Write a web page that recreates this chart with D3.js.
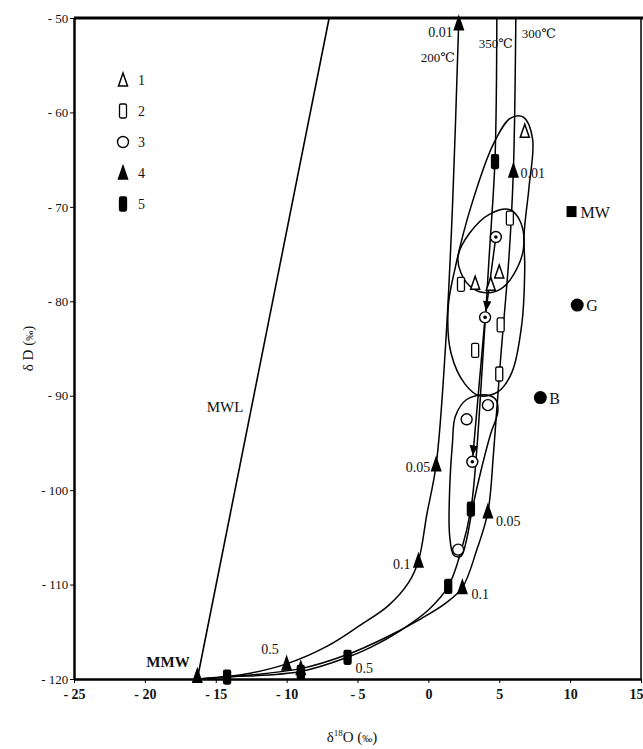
<!DOCTYPE html>
<html>
<head>
<meta charset="utf-8">
<script src="https://cdn.jsdelivr.net/npm/d3@7"></script>
<style>
  body { margin: 0; background: #fff; }
  text { font-family: "Liberation Serif", "DejaVu Serif", serif; fill: #111; }
</style>
</head>
<body>
<div id="chart"></div>
<script>
// assi
var xTicks = [-25, -20, -15, -10, -5, 0, 5, 10, 15];
var yTicks = [-50, -60, -70, -80, -90, -100, -110, -120];

// linea delle acque meteoriche
var mwl = [[-16.3, -120], [-7.0, -50]];

// curve di scambio (d18O, dD)
var curve200 = [[-16.3, -120], [-13, -119.5], [-10, -118.4], [-7.1, -116.5], [-4.8, -114.3], [-2.8, -112.2], [-1.4, -109.8], [-0.7, -107.5], [-0.1, -102.5], [0.55, -97.3], [1.2, -85], [1.7, -70], [2.15, -50]];
var curve350 = [[-16.3, -120], [-14.2, -119.8], [-9, -119.2], [-5.7, -117.7], [-4, -116.6], [-2, -114.9], [0, -112.7], [1.4, -110.2], [2.3, -106.5], [3.0, -102], [3.4, -96], [3.8, -87], [4.3, -75], [4.7, -65], [4.83, -50]];
var curve300 = [[-16.3, -120], [-9, -118.9], [-5.7, -117.4], [-3, -115.6], [-0.5, -113.6], [1.2, -112], [2.4, -110.3], [3.4, -106.4], [4.2, -102.3], [4.6, -96], [5.1, -86], [5.7, -75], [6.0, -66], [6.17, -50]];

// contorni dei gruppi
var loopUpper = [[6.7, -60.5], [7.35, -62.8], [7.1, -67.9], [6.75, -73], [6.8, -76.4], [6.6, -82.3], [5.9, -87.5], [4.9, -89.6], [3.6, -90], [2.6, -88.8], [1.6, -85.5], [1.4, -80.6], [1.9, -76.4], [3.0, -70], [4.6, -63.3], [5.8, -60.6]];
var loopMiddle = [[5.75, -70.3], [6.5, -71.6], [6.7, -74.5], [6.0, -77.2], [5.2, -78.6], [4.2, -79.1], [3.1, -78.6], [2.3, -77], [2.1, -75.2], [2.9, -72.8], [4.3, -70.8]];
var loopLower = [[4.0, -89.9], [4.75, -90.4], [4.9, -91.7], [4.4, -94], [3.7, -98], [3.1, -102], [2.7, -105.2], [2.3, -107], [1.8, -106.9], [1.5, -104.8], [1.5, -100], [1.7, -95], [1.9, -92.2], [2.7, -90.4]];

// campioni
var samples1 = [[6.8, -62], [3.3, -78.1], [4.4, -78.2], [5.0, -76.9]];          // triangolo vuoto
var samples2 = [[5.75, -71.2], [2.3, -78.2], [5.1, -82.5], [3.3, -85.2], [5.0, -87.7]]; // barra vuota
var samples3 = [[2.7, -92.5], [4.2, -91.0], [2.1, -106.3]];                      // cerchio vuoto
var samplesDot = [[4.76, -73.2], [4.0, -81.7], [3.1, -97.0]];                    // cerchio con punto
var calc4 = [[2.15, -50.6], [0.55, -97.3], [-0.7, -107.5], [-10, -118.4], [6.0, -66.2], [4.2, -102.3], [2.4, -110.3], [-9, -118.9], [-16.3, -119.7]];
var calc5 = [[4.7, -65.2], [3.0, -102], [1.4, -110.2], [-5.7, -117.7], [-9, -119.3], [-14.2, -119.8]];

// punti di riferimento
var refNames = ["MW", "G", "B"];
var refX = [10.1, 10.5, 7.9];
var refY = [-70.5, -80.4, -90.2];

// etichette W/R
var wrText = ["0.01", "0.01", "0.05", "0.05", "0.1", "0.1", "0.5", "0.5"];
var wrX = [2.15, 6.0, 0.55, 4.2, -0.7, 2.4, -10, -5.7];
var wrY = [-50.6, -66.2, -97.3, -102.3, -107.5, -110.3, -118.4, -117.7];

var width = 643, height = 749;
var svg = d3.select("#chart").append("svg")
  .attr("width", width)
  .attr("height", height);

var x = d3.scaleLinear().domain([-25, 15]).range([74, 641]);
var y = d3.scaleLinear().domain([-120, -50]).range([679, 18]);

var fmt = function (d) { return d < 0 ? "- " + (-d) : d; };

// asse x
var gx = svg.append("g")
  .attr("transform", "translate(0," + y(-120) + ")")
  .call(d3.axisBottom(x).tickValues(xTicks).tickSize(4).tickSizeOuter(0).tickFormat(fmt));
gx.select(".domain").attr("stroke-width", 2.5);
gx.selectAll("text").attr("font-size", 14).attr("font-weight", "bold").attr("dy", "0.95em")
  .style("font-family", "Liberation Serif");
// l'ultima etichetta sta sul bordo della pagina
gx.selectAll(".tick").filter(function (d) { return d === 15; }).select("text")
  .attr("text-anchor", "end").attr("x", 2);

// asse y
var gy = svg.append("g")
  .attr("transform", "translate(" + x(-25) + ",0)")
  .call(d3.axisLeft(y).tickValues(yTicks).tickSize(4).tickSizeOuter(0).tickFormat(fmt));
gy.select(".domain").attr("stroke-width", 2.5);
gy.selectAll("text").attr("font-size", 13).attr("dx", "0.1em")
  .style("font-family", "Liberation Serif");

// bordo superiore e destro
svg.append("line").attr("x1", x(-25)).attr("x2", width).attr("y1", y(-50)).attr("y2", y(-50))
  .attr("stroke", "#000").attr("stroke-width", 3);
svg.append("line").attr("x1", x(15)).attr("x2", x(15)).attr("y1", y(-50)).attr("y2", y(-120))
  .attr("stroke", "#000").attr("stroke-width", 1.5);

// titoli assi
svg.append("text")
  .attr("transform", "translate(33," + y(-85) + ") rotate(-90)")
  .attr("text-anchor", "middle").attr("font-size", 15)
  .html("δ D (<tspan font-size='10'>‰</tspan>)");
svg.append("text")
  .attr("x", 352).attr("y", 742)
  .attr("text-anchor", "middle").attr("font-size", 15)
  .html("δ<tspan font-size='9' dy='-6'>18</tspan><tspan dy='6'>O (</tspan><tspan font-size='10'>‰</tspan>)");

var plot = svg.append("g");

var straight = d3.line().x(function (d) { return x(d[0]); }).y(function (d) { return y(d[1]); });
var smooth = d3.line().x(function (d) { return x(d[0]); }).y(function (d) { return y(d[1]); })
  .curve(d3.curveCatmullRom.alpha(0.5));
var closedLine = d3.line().x(function (d) { return x(d[0]); }).y(function (d) { return y(d[1]); })
  .curve(d3.curveCatmullRomClosed.alpha(0.5));

plot.append("path").attr("d", straight(mwl)).attr("fill", "none").attr("stroke", "#000").attr("stroke-width", 1.6);
[curve200, curve350, curve300].forEach(function (c) {
  plot.append("path").attr("d", smooth(c)).attr("fill", "none").attr("stroke", "#000").attr("stroke-width", 1.5);
});
[loopUpper, loopMiddle, loopLower].forEach(function (c) {
  plot.append("path").attr("d", closedLine(c)).attr("fill", "none").attr("stroke", "#000").attr("stroke-width", 1.5);
});

// freccia tra i cerchi con punto
svg.append("defs").append("marker")
  .attr("id", "arrow").attr("viewBox", "0 0 10 10").attr("refX", 10).attr("refY", 5)
  .attr("markerWidth", 7).attr("markerHeight", 9).attr("orient", "auto")
  .append("path").attr("d", "M0,1 L10,5 L0,9 Z").attr("fill", "#000");
for (var i = 0; i < samplesDot.length - 1; i++) {
  var a = samplesDot[i], b = samplesDot[i + 1];
  var x1 = x(a[0]), y1 = y(a[1]), x2 = x(b[0]), y2 = y(b[1]);
  var len = Math.hypot(x2 - x1, y2 - y1);
  var ux = (x2 - x1) / len, uy = (y2 - y1) / len;
  plot.append("line")
    .attr("x1", x1 + ux * 6).attr("y1", y1 + uy * 6)
    .attr("x2", x2 - ux * 6).attr("y2", y2 - uy * 6)
    .attr("stroke", "#000").attr("stroke-width", 1.5)
    .attr("marker-end", "url(#arrow)");
}

// simboli
function triangle(g, cx, cy, filled) {
  g.append("path")
    .attr("d", "M" + cx + "," + (cy - 7) + " L" + (cx + 4.5) + "," + (cy + 6) + " L" + (cx - 4.5) + "," + (cy + 6) + " Z")
    .attr("fill", filled ? "#000" : "#fff").attr("stroke", "#000").attr("stroke-width", 1.5);
}
function bar(g, cx, cy, filled) {
  g.append("rect")
    .attr("x", cx - 3.5).attr("y", cy - 7).attr("width", 7).attr("height", 14).attr("rx", 1.5)
    .attr("fill", filled ? "#000" : "#fff").attr("stroke", "#000").attr("stroke-width", 1.3);
}
function circle(g, cx, cy, dot) {
  g.append("circle").attr("cx", cx).attr("cy", cy).attr("r", 5.5)
    .attr("fill", "#fff").attr("stroke", "#000").attr("stroke-width", 1.4);
  if (dot) g.append("circle").attr("cx", cx).attr("cy", cy).attr("r", 1.8).attr("fill", "#000");
}

samples1.forEach(function (d) { triangle(plot, x(d[0]), y(d[1]), false); });
samples2.forEach(function (d) { bar(plot, x(d[0]), y(d[1]), false); });
samples3.forEach(function (d) { circle(plot, x(d[0]), y(d[1]), false); });
samplesDot.forEach(function (d) { circle(plot, x(d[0]), y(d[1]), true); });
calc4.forEach(function (d) { triangle(plot, x(d[0]), y(d[1]), true); });
calc5.forEach(function (d) { bar(plot, x(d[0]), y(d[1]), true); });

// MW, G, B
refNames.forEach(function (n, i) {
  var px = x(refX[i]), py = y(refY[i]);
  if (n === "MW") {
    plot.append("rect").attr("x", px - 5).attr("y", py - 5.5).attr("width", 10).attr("height", 11).attr("fill", "#000");
  } else {
    plot.append("circle").attr("cx", px).attr("cy", py).attr("r", 6.5).attr("fill", "#000");
  }
  plot.append("text").attr("x", px + 9).attr("y", py + 6).attr("font-size", 16).text(n);
});

// etichette W/R (posizione rispetto al simbolo)
var wrDx = [-6, 7, -6, 8, -8, 9, -8, 8];
var wrDy = [13, 7, 7, 14, 8, 12, -10, 16];
var wrAnchor = ["end", "start", "end", "start", "end", "start", "end", "start"];
wrText.forEach(function (t, i) {
  plot.append("text")
    .attr("x", x(wrX[i]) + wrDx[i]).attr("y", y(wrY[i]) + wrDy[i])
    .attr("text-anchor", wrAnchor[i]).attr("font-size", 14).text(t);
});

// temperature
plot.append("text").attr("x", x(2.15) - 4).attr("y", 62).attr("text-anchor", "end").attr("font-size", 13).text("200℃");
plot.append("text").attr("x", x(4.83) + 16).attr("y", 48).attr("text-anchor", "end").attr("font-size", 13).text("350℃");
plot.append("text").attr("x", x(6.17) + 6).attr("y", 38).attr("font-size", 13).text("300℃");

plot.append("text").attr("x", 168).attr("y", 667).attr("text-anchor", "middle").attr("font-size", 15).attr("font-weight", "bold").text("MMW");
plot.append("text").attr("x", 225).attr("y", 412).attr("text-anchor", "middle").attr("font-size", 15).text("MWL");

// legenda
var legendY = [80, 111, 142, 173, 204];
var legendLabels = ["1", "2", "3", "4", "5"];
var lg = svg.append("g");
triangle(lg, 123, legendY[0], false);
bar(lg, 123, legendY[1], false);
circle(lg, 123, legendY[2], false);
triangle(lg, 123, legendY[3], true);
bar(lg, 123, legendY[4], true);
legendLabels.forEach(function (t, i) {
  lg.append("text").attr("x", 138).attr("y", legendY[i] + 5).attr("font-size", 14).text(t);
});
</script>
</body>
</html>
